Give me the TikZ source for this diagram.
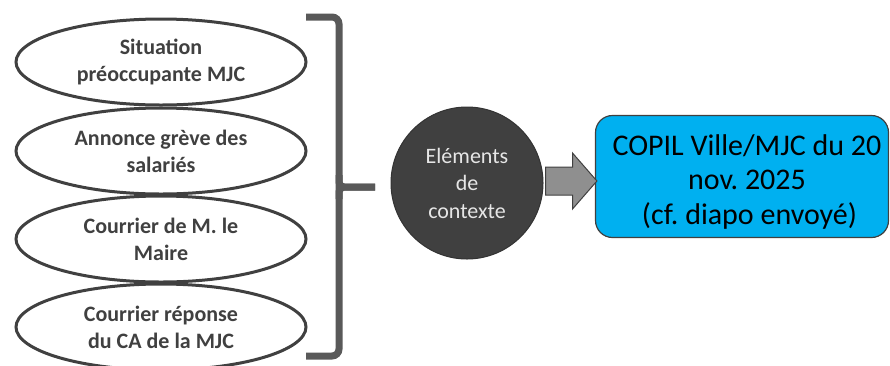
\documentclass[tikz,border=0pt]{standalone}
\usepackage{fontspec}
\setmainfont{Carlito}
\usetikzlibrary{shapes.geometric,calc}
\definecolor{dk}{HTML}{404040}
\definecolor{brk}{HTML}{595959}
\definecolor{bl}{HTML}{00B0F0}
\definecolor{ar}{HTML}{8F8F8F}
\definecolor{lt}{HTML}{E6E6E6}
\frenchspacing
\begin{document}
\begin{tikzpicture}[x=1pt,y=-1pt,
  item/.style={ellipse, draw=dk, line width=3pt, minimum width=290pt, minimum height=86pt,
    inner sep=0pt, align=center, text=dk, font=\fontsize{22}{27}\selectfont\bfseries},
  bracketline/.style={draw=brk, line width=7pt},
  ctxnode/.style={circle, draw=dk!80!black, line width=1pt, fill=dk, minimum size=152pt,
    inner sep=0pt, align=center, text=lt, font=\fontsize{22}{27.5}\selectfont},
  blockarrow/.style={draw=dk, line width=1pt, fill=ar, line join=miter},
  copilbox/.style={rectangle, rounded corners=17pt, draw=dk, line width=1.2pt, fill=bl,
    minimum width=293pt, minimum height=122pt, inner sep=0pt},
  copiltext/.style={align=center, text=black, font=\fontsize{30}{34.5}\selectfont, inner sep=0pt}
]
\useasboundingbox (0,0) rectangle (890,365);

\node[item] (e1) at (161,62) {Situation\\préoccupante MJC};
\node[item] (e2) at (161,151) {Annonce grève des\\salariés};
\node[item] (e3) at (161,239) {Courrier de M. le\\Maire};
\node[item] (e4) at (161,327) {Courrier réponse\\du CA de la MJC};

% bracket
\coordinate (bt) at (306,17);
\coordinate (bb) at (306,356);
\coordinate (bm) at (339,187);
\coordinate (bp) at (375,187);
\draw[bracketline, rounded corners=7pt] (bt) -- (339,17) -- (339,356) -- (bb);
\draw[bracketline, rounded corners=5pt] ($(bm)+(0,-12)$) -- (bm) -- (bp);
\draw[bracketline, rounded corners=5pt] ($(bm)+(0,12)$) -- (bm) -- (bp);

\node[ctxnode] (ctx) at (467,183) {Eléments\\de\\contexte};

\node[copilbox] (copil) at (742,176.5) {};
\node[copiltext] (copiltxt) at ($(copil.center)+(5,5)$) {COPIL Ville/MJC du 20\\nov. 2025\\\hspace{5pt}(cf. diapo envoyé)};

% block arrow between ctx and copil
\coordinate (at) at ($(ctx.east)+(2,-2)$);
\coordinate (ah) at ($(copil.west)+(2,4.5)$);
\draw[blockarrow] (at) ++(0,-14) -- ++(27,0) -- ++(0,-14) -- (ah) -- ($(at)+(27,28)$) -- ++(0,-14) -- ++(-27,0) -- cycle;
\end{tikzpicture}
\end{document}
